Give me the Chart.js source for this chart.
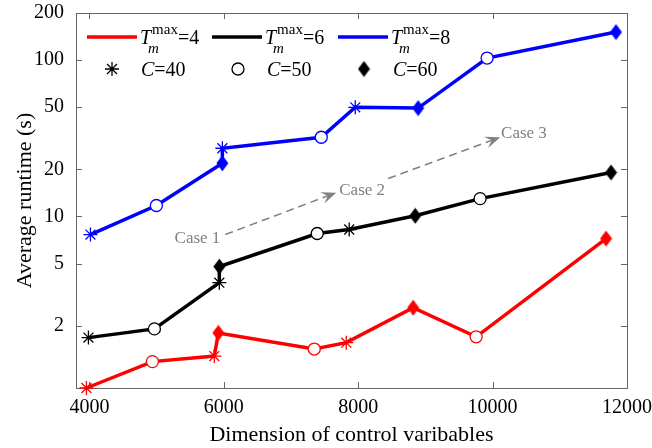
<!DOCTYPE html>
<html>
<head>
<meta charset="utf-8">
<script src="https://cdn.jsdelivr.net/npm/chart.js@4"></script>
<style>
  html, body { margin: 0; padding: 0; background: #fff; }
  #wrap { width: 652px; height: 448px; }
</style>
</head>
<body>
<div id="wrap"><canvas id="chart" width="652" height="448"></canvas></div>
<script>
// ticks
const xTicks = [4000, 6000, 8000, 10000, 12000];
const yTicks = [2, 5, 10, 20, 50, 100, 200];

// T_m^max = 4
const dimT4 = [3955, 4937, 5859, 5918, 7346, 7822, 8818, 9755, 11688];
const runT4 = [0.8, 1.18, 1.28, 1.80, 1.42, 1.56, 2.61, 1.70, 7.22];
const cT4   = [40, 50, 40, 60, 50, 40, 60, 50, 60];

// T_m^max = 6
const dimT6 = [3985, 4967, 5933, 5933, 7390, 7866, 8848, 9814, 11762];
const runT6 = [1.68, 1.91, 3.77, 4.78, 7.78, 8.25, 10.1, 13.0, 19.1];
const cT6   = [40, 50, 40, 60, 50, 40, 60, 50, 60];

// T_m^max = 8
const dimT8 = [4015, 4996, 5978, 5978, 7450, 7956, 8892, 9918, 11836];
const runT8 = [7.66, 11.75, 21.9, 27.3, 32.1, 49.9, 49.3, 103, 151];
const cT8   = [40, 50, 60, 40, 50, 40, 60, 50, 60];

// case arrows (data coords): [x1, y1, x2, y2]
const caseArrows = [[6022, 7.66, 7673, 14.2], [8446, 17.5, 10112, 32.1]];
const caseLabels = ['Case 1', 'Case 2', 'Case 3'];
const casePos = [[5948, 7.22, 'right'], [7718, 14.6, 'left'], [10126, 33.7, 'left']];

const SERIF = '"Liberation Serif", "Times New Roman", serif';

function diamondImg(color) {
  const c = document.createElement('canvas');
  c.width = 13; c.height = 17;
  const g = c.getContext('2d');
  g.fillStyle = color;
  g.beginPath();
  g.moveTo(6.5, 0.5); g.lineTo(12.5, 8.5); g.lineTo(6.5, 16.5); g.lineTo(0.5, 8.5);
  g.closePath(); g.fill();
  return c;
}

function makeSet(label, color, dims, runs, cs) {
  return {
    label: label,
    data: dims.map((d, i) => ({ x: d, y: runs[i] })),
    borderColor: color,
    backgroundColor: color,
    borderWidth: 3.5,
    showLine: true,
    tension: 0,
    clip: false,
    pointStyle: cs.map(c => c === 40 ? 'star' : c === 50 ? 'circle' : diamondImg(color)),
    pointRadius: cs.map(c => c === 50 ? 6 : 7),
    pointBorderWidth: cs.map(c => c === 60 ? 0 : 1.3),
    pointBackgroundColor: cs.map(c => c === 50 ? '#fff' : color),
    pointBorderColor: color
  };
}

function arrow(ctx, x1, y1, x2, y2) {
  const ang = Math.atan2(y2 - y1, x2 - x1);
  const cs = Math.cos(ang), sn = Math.sin(ang);
  const hl = 15, hw = 6;
  ctx.save();
  ctx.strokeStyle = '#808080';
  ctx.fillStyle = '#808080';
  ctx.lineWidth = 1.5;
  ctx.setLineDash([8, 5]);
  ctx.beginPath();
  ctx.moveTo(x1, y1);
  ctx.lineTo(x2 - cs * hl * 0.6, y2 - sn * hl * 0.6);
  ctx.stroke();
  ctx.setLineDash([]);
  ctx.beginPath();
  ctx.moveTo(x2, y2);
  ctx.lineTo(x2 - hl * cs + hw * sn, y2 - hl * sn - hw * cs);
  ctx.lineTo(x2 - hl * 0.6 * cs, y2 - hl * 0.6 * sn);
  ctx.lineTo(x2 - hl * cs - hw * sn, y2 - hl * sn + hw * cs);
  ctx.closePath();
  ctx.fill();
  ctx.restore();
}

const framePlugin = {
  id: 'frame',
  beforeDatasetsDraw(chart) {
    const ctx = chart.ctx, a = chart.chartArea;
    const xs = chart.scales.x, ys = chart.scales.y;
    ctx.save();
    ctx.strokeStyle = '#666';
    ctx.lineWidth = 1;
    ctx.strokeRect(Math.round(a.left) + 0.5, Math.round(a.top) + 0.5,
      Math.round(a.right - a.left), Math.round(a.bottom - a.top));
    ctx.beginPath();
    xTicks.forEach(t => {
      const px = Math.round(xs.getPixelForValue(t)) + 0.5;
      ctx.moveTo(px, a.bottom); ctx.lineTo(px, a.bottom - 6);
      ctx.moveTo(px, a.top); ctx.lineTo(px, a.top + 6);
    });
    yTicks.forEach(t => {
      const py = Math.round(ys.getPixelForValue(t)) + 0.5;
      ctx.moveTo(a.left, py); ctx.lineTo(a.left + 6, py);
      ctx.moveTo(a.right, py); ctx.lineTo(a.right - 6, py);
    });
    ctx.stroke();
    ctx.restore();

    // case annotations
    caseArrows.forEach(r => arrow(ctx, xs.getPixelForValue(r[0]), ys.getPixelForValue(r[1]),
      xs.getPixelForValue(r[2]), ys.getPixelForValue(r[3])));
    ctx.save();
    ctx.fillStyle = '#808080';
    ctx.font = '17px ' + SERIF;
    ctx.textBaseline = 'middle';
    casePos.forEach((p, i) => {
      ctx.textAlign = p[2];
      ctx.fillText(caseLabels[i], xs.getPixelForValue(p[0]), ys.getPixelForValue(p[1]));
    });
    ctx.restore();
  },
  afterDraw(chart) {
    const ctx = chart.ctx;
    ctx.save();
    ctx.textBaseline = 'alphabetic';
    ctx.textAlign = 'left';
    // row 1: lines + T_m^max labels
    const row1 = 37, base1 = 44;
    const items = [['#ff0000', 87, '4'], ['#000000', 212, '6'], ['#0000ff', 338, '8']];
    items.forEach(it => {
      ctx.strokeStyle = it[0];
      ctx.lineWidth = 3.5;
      ctx.beginPath();
      ctx.moveTo(it[1], row1); ctx.lineTo(it[1] + 50, row1);
      ctx.stroke();
      ctx.fillStyle = '#000';
      const tx = it[1] + 53;
      ctx.font = 'italic 20px ' + SERIF;
      ctx.fillText('T', tx, base1);
      const tw = ctx.measureText('T').width;
      ctx.font = '15px ' + SERIF;
      ctx.fillText('max', tx + tw + 1, base1 - 10);
      const mw = ctx.measureText('max').width;
      ctx.font = 'italic 15px ' + SERIF;
      ctx.fillText('m', tx + tw - 3, base1 + 9);
      ctx.font = '20px ' + SERIF;
      ctx.fillText('=' + it[2], tx + tw + mw + 1, base1);
    });
    // row 2: markers + C labels
    const row2 = 69, base2 = 76;
    const mk = [[112, 'star', '40'], [238, 'circle', '50'], [364, 'diamond', '60']];
    mk.forEach(m => {
      if (m[1] === 'diamond') {
        ctx.drawImage(diamondImg('#000'), m[0] - 6.5, row2 - 8.5);
      } else {
        ctx.strokeStyle = '#000';
        ctx.fillStyle = m[1] === 'circle' ? '#fff' : '#000';
        ctx.lineWidth = 1.3;
        Chart.helpers.drawPoint(ctx, {
          pointStyle: m[1], radius: m[1] === 'star' ? 7 : 6, borderWidth: 1.3, rotation: 0
        }, m[0], row2);
      }
      ctx.fillStyle = '#000';
      ctx.font = 'italic 20px ' + SERIF;
      const tx = m[0] + 29;
      ctx.fillText('C', tx, base2);
      const cw = ctx.measureText('C').width;
      ctx.font = '20px ' + SERIF;
      ctx.fillText('=' + m[2], tx + cw, base2);
    });
    ctx.restore();
  }
};

const ctx = document.getElementById('chart').getContext('2d');

new Chart(ctx, {
  type: 'scatter',
  data: {
    datasets: [
      makeSet('T4', '#ff0000', dimT4, runT4, cT4),
      makeSet('T6', '#000000', dimT6, runT6, cT6),
      makeSet('T8', '#0000ff', dimT8, runT8, cT8)
    ]
  },
  options: {
    responsive: false,
    animation: false,
    devicePixelRatio: 1,
    layout: { padding: { top: 13, right: 25, left: 0, bottom: 0 } },
    plugins: { legend: { display: false }, tooltip: { enabled: false } },
    scales: {
      x: {
        type: 'linear',
        min: 3800,
        max: 12000,
        afterBuildTicks: s => { s.ticks = xTicks.map(v => ({ value: v })); },
        afterFit: s => { s.height = 60; s.paddingLeft = 0; s.paddingRight = 0; },
        grid: { display: false, drawTicks: false, tickLength: 0 },
        border: { display: false },
        ticks: {
          font: { family: SERIF, size: 20 },
          color: '#000',
          padding: 8,
          maxRotation: 0,
          callback: v => String(v)
        },
        title: {
          display: true,
          text: 'Dimension of control varibables',
          font: { family: SERIF, size: 22 },
          color: '#000',
          padding: { top: 0, bottom: 0 }
        }
      },
      y: {
        type: 'logarithmic',
        min: 0.8,
        max: 200,
        afterBuildTicks: s => { s.ticks = yTicks.map(v => ({ value: v })); },
        afterFit: s => { s.width = 76; s.paddingTop = 0; s.paddingBottom = 0; },
        grid: { display: false, drawTicks: false, tickLength: 0 },
        border: { display: false },
        ticks: {
          font: { family: SERIF, size: 20 },
          color: '#000',
          padding: 12,
          callback: v => String(v)
        },
        title: {
          display: true,
          text: 'Average runtime (s)',
          font: { family: SERIF, size: 22 },
          color: '#000',
          padding: { top: 12, bottom: 0 }
        }
      }
    }
  },
  plugins: [framePlugin]
});
</script>
</body>
</html>
